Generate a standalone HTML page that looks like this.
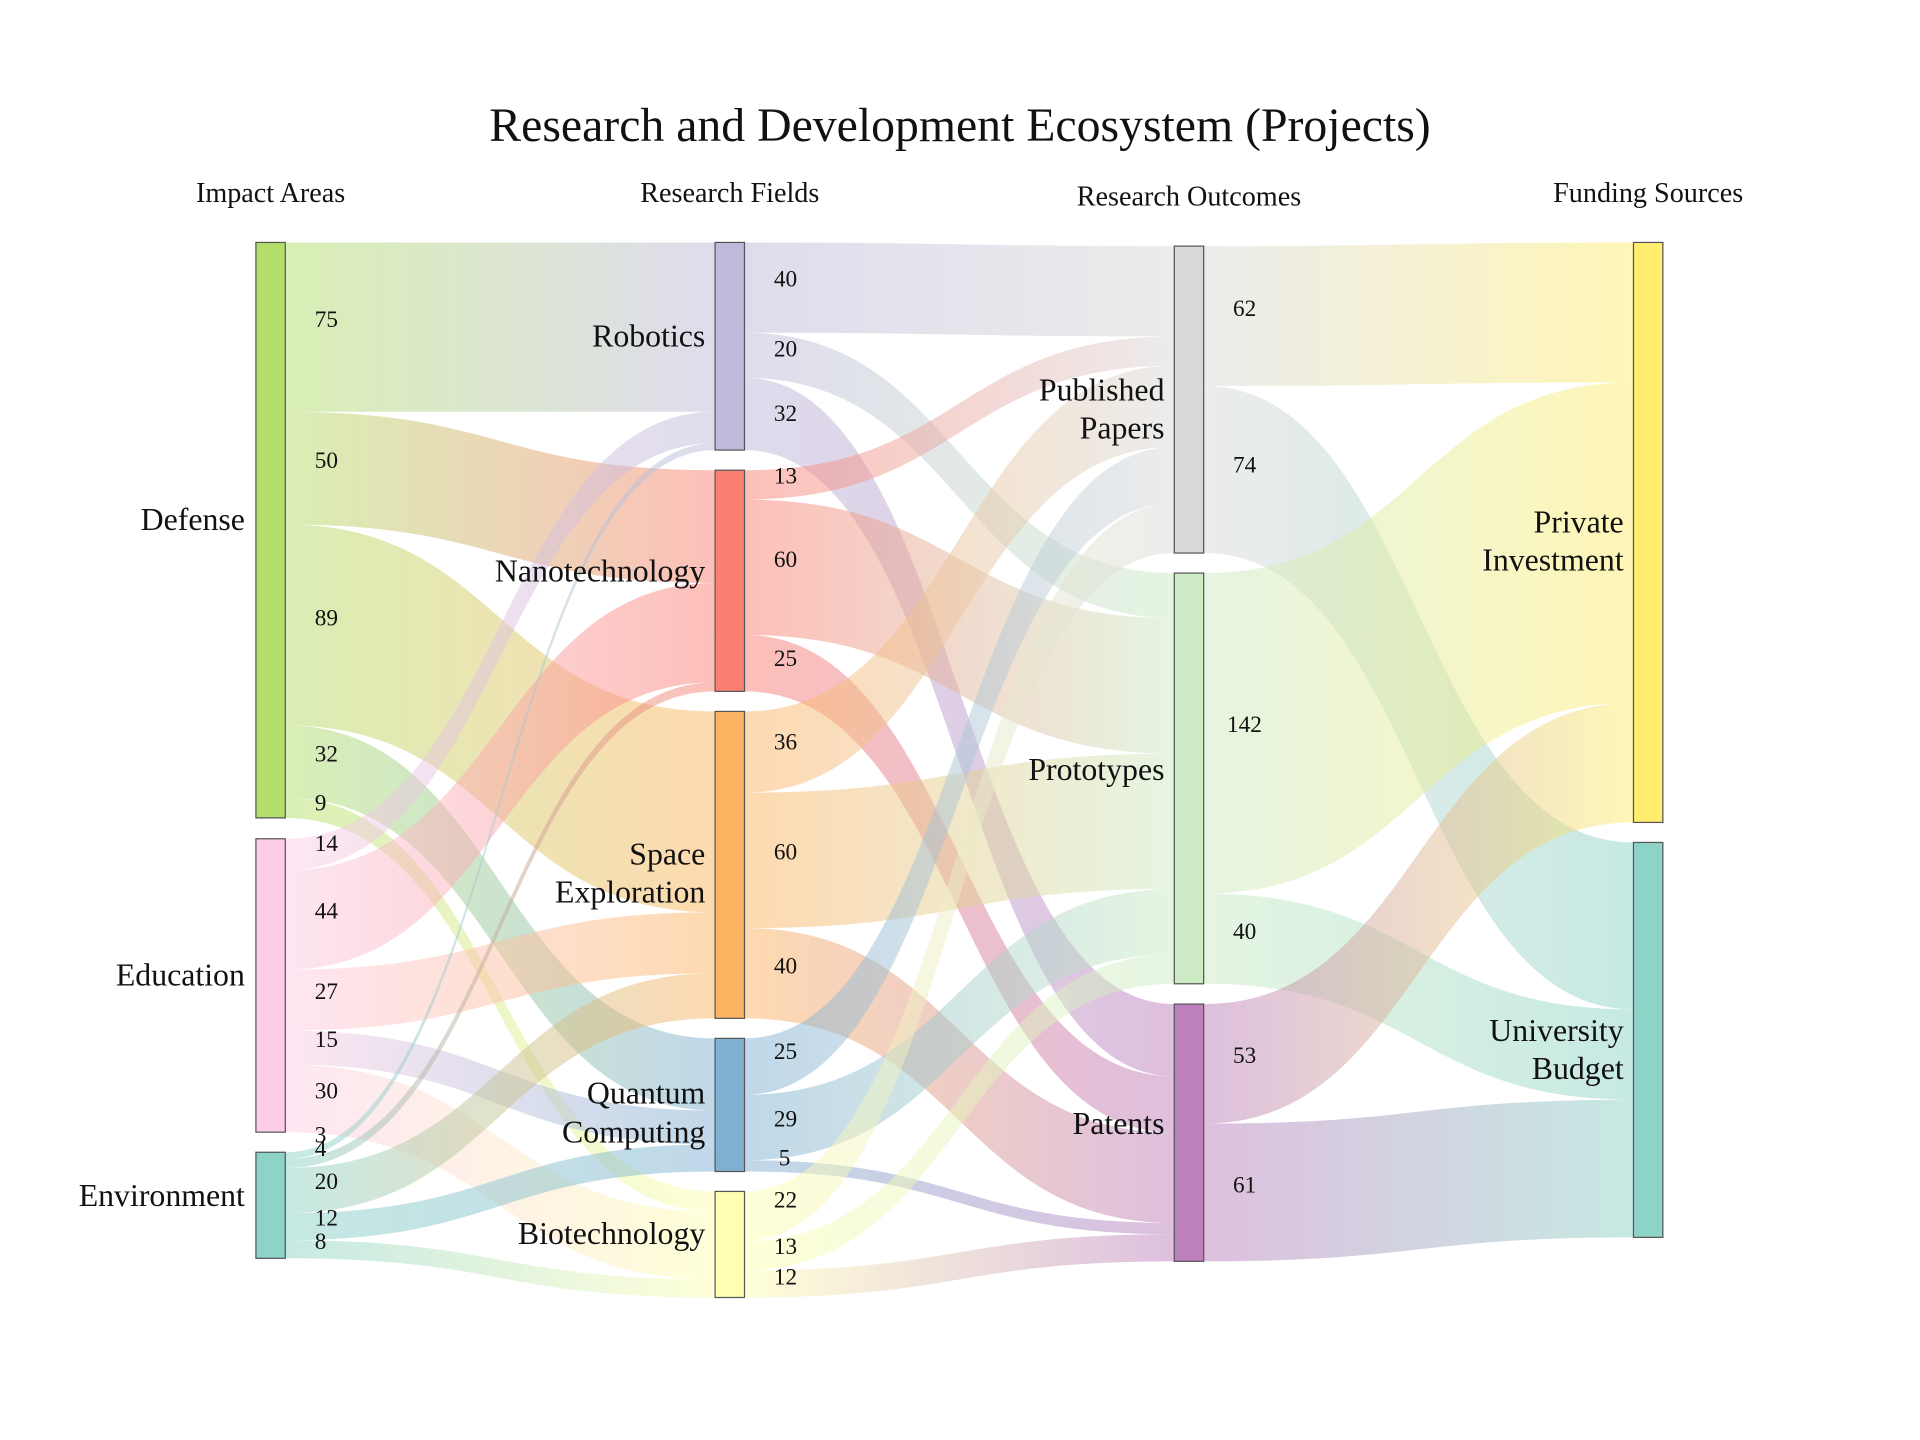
<!DOCTYPE html>
<html><head><meta charset="utf-8">
<style>
html,body{margin:0;padding:0;background:#fff;}
svg{display:block;}
text{font-family:"Liberation Serif",serif;fill:#111;}
.nl{font-size:26px;}
.vl{font-size:19px;}
.ax{font-size:23px;}
</style></head>
<body>
<svg id="s" width="1920" height="1440" viewBox="0 0 1568 1176" xmlns="http://www.w3.org/2000/svg">
<defs id="d"></defs>
<g id="links"></g>
<g id="nodes"></g>
<text x="784" y="115" text-anchor="middle" style="font-size:39px">Research and Development Ecosystem (Projects)</text>
<text class="ax" x="221" y="165" text-anchor="middle">Impact Areas</text>
<text class="ax" x="596" y="165" text-anchor="middle">Research Fields</text>
<text class="ax" x="971" y="168" text-anchor="middle">Research Outcomes</text>
<text class="ax" x="1346" y="165" text-anchor="middle">Funding Sources</text>

<g class="nl" text-anchor="end">
<text x="200" y="433">Defense</text>
<text x="200" y="805">Education</text>
<text x="200" y="985">Environment</text>
<text x="576" y="283">Robotics</text>
<text x="576" y="475">Nanotechnology</text>
<text x="576" y="706">Space</text>
<text x="576" y="737">Exploration</text>
<text x="576" y="901">Quantum</text>
<text x="576" y="933">Computing</text>
<text x="576" y="1016">Biotechnology</text>
<text x="951" y="327">Published</text>
<text x="951" y="358">Papers</text>
<text x="951" y="637">Prototypes</text>
<text x="951" y="926">Patents</text>
<text x="1326" y="435">Private</text>
<text x="1326" y="466">Investment</text>
<text x="1326" y="850">University</text>
<text x="1326" y="881">Budget</text>
</g>

<g class="vl">
<text x="257" y="267">75</text>
<text x="257" y="382">50</text>
<text x="257" y="511">89</text>
<text x="257" y="622">32</text>
<text x="257" y="662">9</text>
<text x="257" y="695">14</text>
<text x="257" y="750">44</text>
<text x="257" y="816">27</text>
<text x="257" y="855">15</text>
<text x="257" y="897">30</text>
<text x="257" y="933">3</text>
<text x="257" y="944">4</text>
<text x="257" y="971">20</text>
<text x="257" y="1001">12</text>
<text x="257" y="1020">8</text>
<text x="632" y="234">40</text>
<text x="632" y="291">20</text>
<text x="632" y="344">32</text>
<text x="632" y="395">13</text>
<text x="632" y="463">60</text>
<text x="632" y="544">25</text>
<text x="632" y="612">36</text>
<text x="632" y="702">60</text>
<text x="632" y="795">40</text>
<text x="632" y="865">25</text>
<text x="632" y="920">29</text>
<text x="636" y="952">5</text>
<text x="632" y="986">22</text>
<text x="632" y="1024">13</text>
<text x="632" y="1049">12</text>
<text x="1007" y="258">62</text>
<text x="1007" y="386">74</text>
<text x="1002" y="598">142</text>
<text x="1007" y="767">40</text>
<text x="1007" y="868">53</text>
<text x="1007" y="974">61</text>
</g>
</svg>
<script>
var k=1.843, W=24;
var N={
Defense:{x:209,y:198,c:"#b3de69"},Education:{x:209,y:685,c:"#fccde5"},Environment:{x:209,y:941,c:"#8dd3c7"},
Robotics:{x:584,y:198,c:"#bebada"},Nano:{x:584,y:384,c:"#fb8072"},Space:{x:584,y:581,c:"#fdb462"},Quantum:{x:584,y:848,c:"#80b1d3"},Bio:{x:584,y:973,c:"#ffffb3"},
Papers:{x:959,y:201,c:"#d9d9d9"},Proto:{x:959,y:468,c:"#ccebc5"},Patents:{x:959,y:820,c:"#bc80bd"},
Private:{x:1334,y:198,c:"#ffed6f"},Univ:{x:1334,y:688,c:"#8dd3c7"}};
var L=[
["Defense","Robotics",75],["Defense","Nano",50],["Defense","Space",89],["Defense","Quantum",32],["Defense","Bio",9],
["Education","Robotics",14],["Education","Nano",44],["Education","Space",27],["Education","Quantum",15],["Education","Bio",30],
["Environment","Robotics",3],["Environment","Nano",4],["Environment","Space",20],["Environment","Quantum",12],["Environment","Bio",8],
["Robotics","Papers",40],["Robotics","Proto",20],["Robotics","Patents",32],
["Nano","Papers",13],["Nano","Proto",60],["Nano","Patents",25],
["Space","Papers",36],["Space","Proto",60],["Space","Patents",40],
["Quantum","Papers",25],["Quantum","Proto",29],["Quantum","Patents",5],
["Bio","Papers",22],["Bio","Proto",13],["Bio","Patents",12],
["Papers","Private",62],["Papers","Univ",74],["Proto","Private",142],["Proto","Univ",40],["Patents","Private",53],["Patents","Univ",61]];
var ns="http://www.w3.org/2000/svg";
var out={},inn={},tot={};
for(var n in N){out[n]=N[n].y;inn[n]=N[n].y;tot[n]=0;}
var defs=document.getElementById("d"),lg=document.getElementById("links"),ng=document.getElementById("nodes");
L.forEach(function(l,i){
 var s=N[l[0]],t=N[l[1]],h=l[2]*k;
 var y0=out[l[0]];out[l[0]]+=h;tot[l[0]]+=h;
 var y1=inn[l[1]];inn[l[1]]+=h;
 var x0=s.x+W,x1=t.x,xm=(x0+x1)/2;
 var g=document.createElementNS(ns,"linearGradient");
 g.setAttribute("id","g"+i);g.setAttribute("gradientUnits","userSpaceOnUse");
 g.setAttribute("x1",x0);g.setAttribute("x2",x1);g.setAttribute("y1",0);g.setAttribute("y2",0);
 g.innerHTML='<stop offset="0" stop-color="'+s.c+'"/><stop offset="1" stop-color="'+t.c+'"/>';
 defs.appendChild(g);
 var p=document.createElementNS(ns,"path");
 p.setAttribute("d","M"+x0+","+y0+"C"+xm+","+y0+" "+xm+","+y1+" "+x1+","+y1+"L"+x1+","+(y1+h)+"C"+xm+","+(y1+h)+" "+xm+","+(y0+h)+" "+x0+","+(y0+h)+"Z");
 p.setAttribute("fill","url(#g"+i+")");p.setAttribute("fill-opacity","0.5");
 lg.appendChild(p);
});
for(var n in N){
 var h=Math.max(tot[n],inn[n]-N[n].y);
 var r=document.createElementNS(ns,"rect");
 r.setAttribute("x",N[n].x);r.setAttribute("y",N[n].y);r.setAttribute("width",W);r.setAttribute("height",h);
 r.setAttribute("fill",N[n].c);r.setAttribute("stroke","#555");r.setAttribute("stroke-width","1");
 ng.appendChild(r);
}
</script>
</body></html>
